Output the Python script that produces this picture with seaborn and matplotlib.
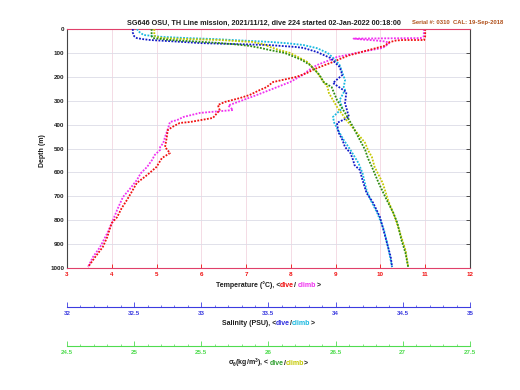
import matplotlib
matplotlib.use('Agg')
import matplotlib.pyplot as plt
import seaborn as sns

# temperature profile (deg C) vs depth (m), dive = red, climb = magenta
temp_dive_depth = [0, 15, 30, 42, 46, 46, 48, 55, 62, 70, 80, 95, 110, 125, 138, 155, 170, 184, 200, 222,
                   243, 255, 276, 289, 305, 318, 339, 372, 389, 393, 410, 423, 452, 494, 519, 540, 577, 611,
                   644, 680, 715, 750, 787, 812, 840, 870, 912, 954, 996]
temp_dive = [11.0, 11.0, 11.0, 10.98, 10.98, 10.5, 10.35, 10.2, 10.15, 10.1, 9.9, 9.6, 9.3, 9.1, 8.94, 8.7,
             8.5, 8.36, 8.13, 7.6, 7.46, 7.31, 7.08, 6.86, 6.53, 6.37, 6.41, 6.26, 5.75, 5.52, 5.35, 5.25,
             5.23, 5.19, 5.3, 5.12, 5.0, 4.79, 4.56, 4.45, 4.34, 4.22, 4.12, 4.0, 3.95, 3.9, 3.8, 3.63, 3.47]
temp_climb_depth = [0, 15, 30, 38, 40, 44, 48, 52, 58, 66, 79, 95, 117, 135, 151, 172, 192, 222, 255, 276,
                    305, 320, 339, 351, 368, 381, 389, 420, 452, 477, 494, 506, 527, 548, 577, 603, 632, 670,
                    703, 757, 812, 854, 912, 954, 996]
temp_climb = [10.97, 10.97, 10.97, 10.9, 9.4, 9.6, 9.9, 10.1, 10.2, 10.15, 10.05, 9.6, 9.03, 8.8, 8.58, 8.4,
              8.27, 7.98, 7.53, 7.24, 6.82, 6.6, 6.71, 5.97, 5.6, 5.46, 5.3, 5.25, 5.19, 5.15, 5.08, 5.08,
              4.96, 4.9, 4.79, 4.65, 4.56, 4.4, 4.25, 4.12, 4.0, 3.9, 3.74, 3.58, 3.47]

# salinity (PSU), dive = blue, climb = cyan
sal_dive_depth = [0, 15, 30, 38, 42, 46, 52, 59, 63, 67, 75, 79, 96, 121, 159, 192, 226, 264, 310, 351,
                  368, 393, 431, 464, 494, 519, 548, 569, 590, 632, 686, 728, 787, 828, 870, 912, 954, 996]
sal_dive = [32.49, 32.49, 32.5, 32.52, 32.56, 32.62, 32.8, 33.0, 33.25, 33.5, 33.7, 33.76, 33.86, 33.96,
            34.03, 34.05, 33.98, 34.08, 34.07, 34.09, 34.1, 34.01, 34.02, 34.05, 34.07, 34.11, 34.13, 34.14,
            34.18, 34.2, 34.23, 34.28, 34.33, 34.35, 34.37, 34.39, 34.41, 34.42]
sal_climb_depth = [0, 13, 25, 33, 38, 42, 48, 54, 60, 67, 80, 100, 125, 151, 184, 213, 243, 255, 297, 331,
                   368, 393, 435, 464, 506, 561, 603, 674, 715, 770, 841, 912, 996]
sal_climb = [32.52, 32.54, 32.57, 32.71, 32.9, 33.1, 33.3, 33.51, 33.65, 33.76, 33.86, 33.94, 33.99, 34.03,
             34.05, 34.07, 34.06, 34.07, 34.03, 34.05, 33.98, 33.99, 34.03, 34.06, 34.11, 34.17, 34.2, 34.23,
             34.26, 34.31, 34.36, 34.39, 34.42]

# potential density sigma-theta (kg/m3), dive = green, climb = yellow
sig_dive_depth = [0, 15, 30, 38, 46, 52, 58, 64, 70, 79, 88, 100, 109, 130, 151, 192, 222, 243, 297, 351,
                  410, 464, 506, 540, 577, 644, 715, 770, 812, 883, 937, 996]
sig_dive = [25.13, 25.13, 25.13, 25.14, 25.27, 25.45, 25.62, 25.75, 25.85, 25.94, 26.01, 26.12, 26.16,
            26.25, 26.31, 26.38, 26.41, 26.47, 26.51, 26.57, 26.63, 26.68, 26.72, 26.74, 26.77, 26.82,
            26.88, 26.93, 26.96, 26.99, 27.02, 27.04]
sig_climb_depth = [0, 15, 28, 33, 38, 42, 46, 50, 54, 65, 75, 88, 100, 117, 138, 180, 213, 243, 268, 326,
                   381, 435, 477, 506, 536, 577, 644, 715, 787, 854, 925, 996]
sig_climb = [25.15, 25.15, 25.15, 25.17, 25.21, 25.4, 25.64, 25.75, 25.88, 25.97, 26.01, 26.08, 26.16,
             26.22, 26.29, 26.36, 26.4, 26.44, 26.45, 26.51, 26.58, 26.66, 26.72, 26.74, 26.77, 26.79,
             26.85, 26.89, 26.94, 26.98, 27.02, 27.04]

temp_ticks = list(range(3, 13))
sal_ticks = [32, 32.5, 33, 33.5, 34, 34.5, 35]
sig_ticks = [24.5, 25, 25.5, 26, 26.5, 27, 27.5]
depth_ticks = list(range(0, 1001, 100))

title = 'SG646 OSU, TH Line mission, 2021/11/12, dive 224 started 02-Jan-2022 00:18:00'
serial = 'Serial #: 0310  CAL: 19-Sep-2018'

RED, MAG = '#f01010', '#f030f0'
BLUE, CYAN = '#1018c8', '#18b8e0'
GREEN, YEL = '#2e8b10', '#c4c800'
INK = '#1e1e1e'

sns.set_style('white')
plt.rcParams['font.family'] = ['Liberation Sans', 'DejaVu Sans']
plt.rcParams['font.weight'] = 'bold'
plt.rcParams['mathtext.fontset'] = 'custom'
plt.rcParams['mathtext.rm'] = 'Liberation Sans:bold'
plt.rcParams['mathtext.it'] = 'Liberation Sans:bold'

fig = plt.figure(figsize=(5.2, 3.9), dpi=100)
ax = fig.add_axes([0.1288, 0.3128, 0.775, 0.6128])

line_kw = dict(sort=False, estimator=None, linewidth=1.3, linestyle=(0, (1, 0.8)))

sns.lineplot(x=temp_climb, y=temp_climb_depth, ax=ax, color=MAG, **line_kw)
sns.lineplot(x=temp_dive, y=temp_dive_depth, ax=ax, color=RED, **line_kw)
ax.set_xlim(3, 12)
ax.set_ylim(1000, 0)
ax.set_xticks(temp_ticks)
ax.set_yticks(depth_ticks)
ax.set_xlabel('')
ax.set_ylabel('')
ax.xaxis.grid(True, color='#f2d6e0', linewidth=0.6)
ax.yaxis.grid(True, color='#dcdce6', linewidth=0.6)
ax.tick_params(axis='x', colors=RED, labelsize=4.5, direction='in', length=3, width=0.6,
               top=True, pad=3)
ax.tick_params(axis='y', colors='#333333', labelsize=4.5, direction='in', length=3, width=0.6,
               right=True, pad=2, labelcolor=INK)
for s in ['top', 'bottom']:
    ax.spines[s].set_color('#e0406a')
for s in ['left', 'right']:
    ax.spines[s].set_color('#444444')
for s in ax.spines.values():
    s.set_linewidth(0.8)

# salinity axis
ax_s = ax.twiny()
sns.lineplot(x=sal_climb, y=sal_climb_depth, ax=ax_s, color=CYAN, **line_kw)
sns.lineplot(x=sal_dive, y=sal_dive_depth, ax=ax_s, color=BLUE, **line_kw)

# density axis
ax_d = ax.twiny()
sns.lineplot(x=sig_climb, y=sig_climb_depth, ax=ax_d, color=YEL, **line_kw)
sns.lineplot(x=sig_dive, y=sig_dive_depth, ax=ax_d, color=GREEN, **line_kw)

for a, lo, hi, ticks, col, off in [(ax_s, 32, 35, sal_ticks, '#3c3ce0', 28.1),
                                   (ax_d, 24.5, 27.5, sig_ticks, '#50dc50', 56.2)]:
    a.set_xlim(lo, hi)
    a.set_xticks(ticks)
    a.set_xticks([lo + 0.1 * i for i in range(31)], minor=True)
    a.set_xticklabels([f'{t:g}' for t in ticks])
    a.xaxis.set_ticks_position('bottom')
    a.spines['bottom'].set_position(('outward', off))
    a.spines['bottom'].set_color(col)
    a.spines['bottom'].set_linewidth(0.8)
    for s in ['top', 'left', 'right']:
        a.spines[s].set_visible(False)
    a.tick_params(axis='x', which='major', colors=col, labelsize=4.5, direction='in',
                  length=3.5, width=0.6, pad=3)
    a.tick_params(axis='x', which='minor', colors=col, direction='in', length=1.8, width=0.5)
    a.set_xlabel('')
    a.set_ylabel('')
    a.grid(False)
ax.set_ylim(1000, 0)

fig.text(0.508, 0.941, title, ha='center', va='center', fontsize=5.2, fontweight='bold', color=INK)
fig.text(0.967, 0.943, serial, ha='right', va='center', fontsize=4.2, fontweight='bold', color='#b0501a')
fig.text(0.081, 0.615, 'Depth (m)', rotation=90, ha='center', va='center', fontsize=5,
         fontweight='bold', color=INK)


def colored_label(parts, y):
    first = fig.text(0.5, y, parts[0][0], color=parts[0][1], fontsize=5, fontweight='bold',
                     va='baseline', ha='left')
    prev, last = first, first
    for s, c in parts[1:]:
        last = ax.annotate(s, xy=(1, y), xycoords=(prev, 'figure fraction'), va='baseline',
                           ha='left', color=c, fontsize=5, fontweight='bold', annotation_clip=False)
        prev = last
    return first, last


labels = [
    colored_label([('Temperature (°C), <', INK), ('dive', RED), ('/ ', INK),
                   ('climb', MAG), ('>', INK)], 1 - 287 / 390),
    colored_label([('Salinity (PSU), <', INK), ('dive', '#3030e0'), ('/', INK),
                   ('climb', CYAN), ('>', INK)], 1 - 325 / 390),
    colored_label([(r'$\sigma_\theta$(kg/m$^3$), <', INK), ('dive', '#30a030'),
                   ('/', INK), ('climb', YEL), ('>', INK)], 1 - 365 / 390),
]

fig.canvas.draw()
r = fig.canvas.get_renderer()
for first, last in labels:
    x0 = first.get_window_extent(r).x0
    x1 = last.get_window_extent(r).x1
    w = (x1 - x0) / fig.bbox.width
    first.set_x(268 / 520 - w / 2)

fig.savefig('out.png', dpi=100)
